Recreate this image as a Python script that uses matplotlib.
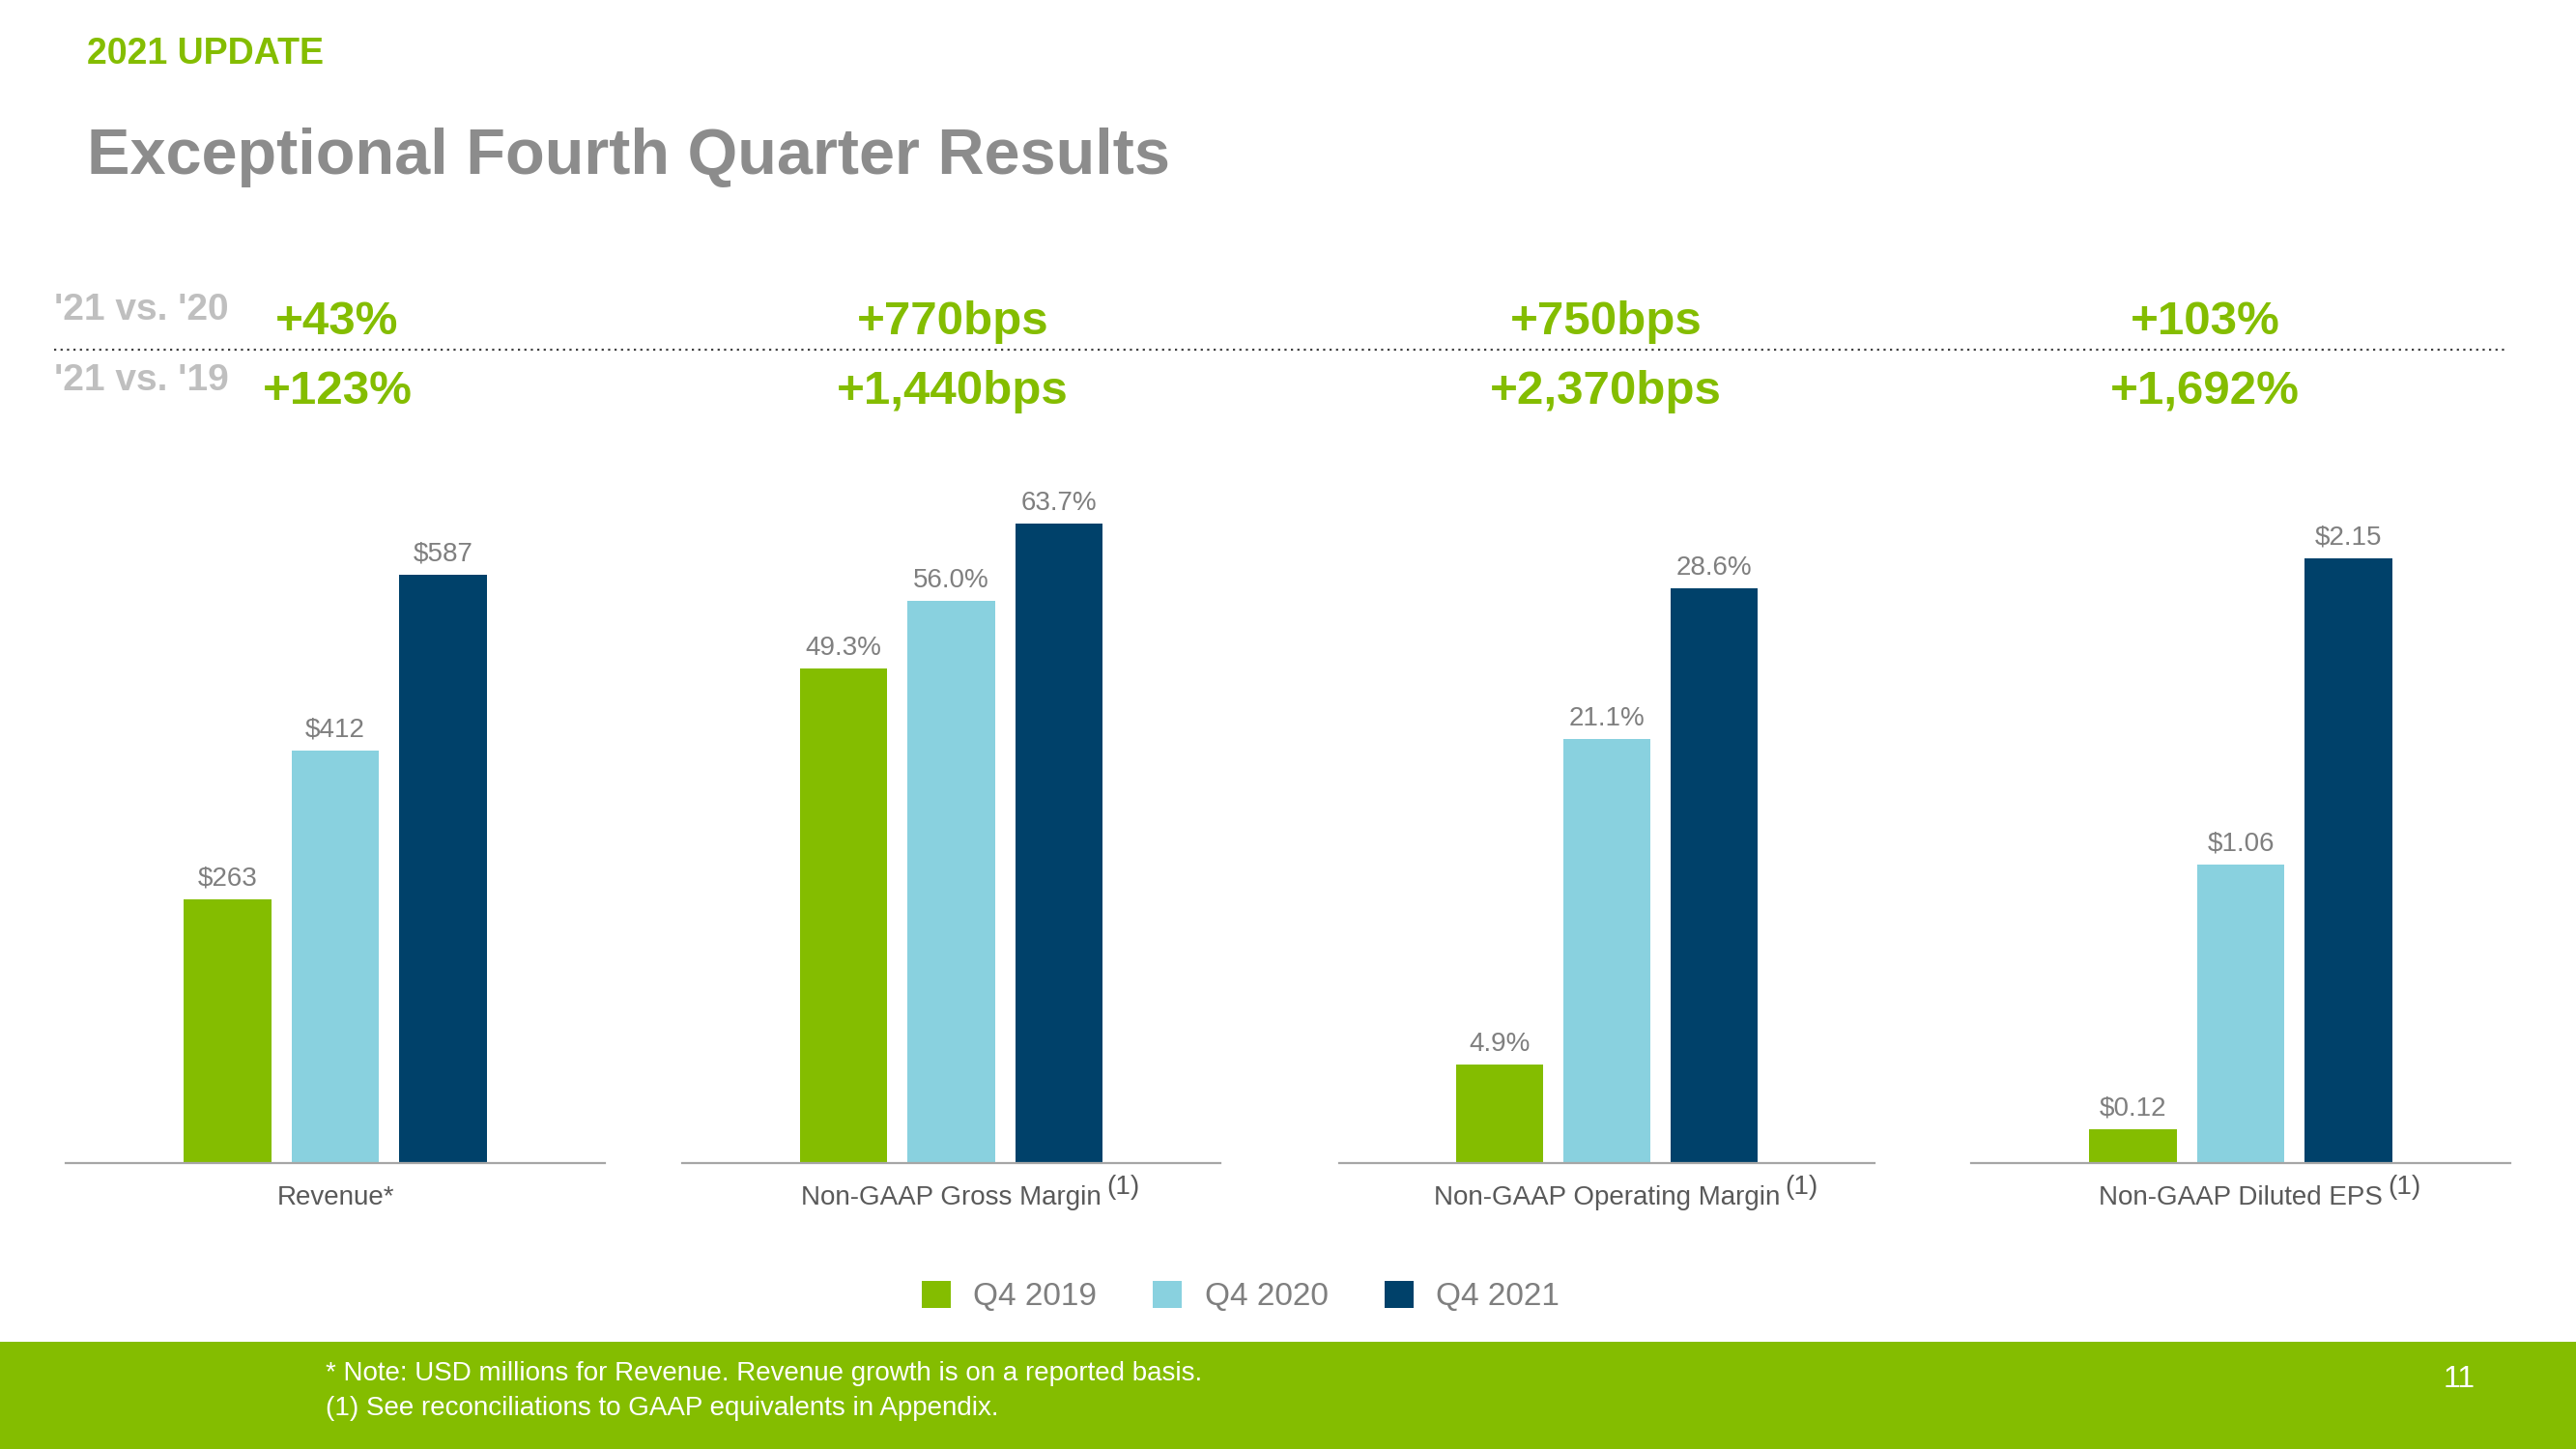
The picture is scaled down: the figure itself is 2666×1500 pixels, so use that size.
"""Q4 2021 results slide: four small bar panels with growth callouts."""
import matplotlib
matplotlib.use("Agg")
import matplotlib.pyplot as plt
from matplotlib.patches import Rectangle, Patch
from matplotlib.lines import Line2D

plt.rcParams["font.family"] = ["Liberation Sans", "DejaVu Sans"]

GREEN, LIGHT, DARK = "#84bd00", "#89d1df", "#00416a"
GRAY = "#7f7f7f"

# data
series = ["Q4 2019", "Q4 2020", "Q4 2021"]
metrics = ["Revenue*", "Non-GAAP Gross Margin", "Non-GAAP Operating Margin", "Non-GAAP Diluted EPS"]
footnote = [False, True, True, True]
revenue = [263, 412, 587]
gross_margin = [49.3, 56.0, 63.7]
op_margin = [4.9, 21.1, 28.6]
eps = [0.12, 1.06, 2.15]
growth_vs_20 = ["+43%", "+770bps", "+750bps", "+103%"]
growth_vs_19 = ["+123%", "+1,440bps", "+2,370bps", "+1,692%"]

values = [revenue, gross_margin, op_margin, eps]
fmts = ["${:.0f}", "{:.1f}%", "{:.1f}%", "${:.2f}"]
ytops = [702, 70.1, 35.0, 2.50]

W, H = 2666, 1500
fig = plt.figure(figsize=(W / 100, H / 100), dpi=100)
fig.patch.set_facecolor("white")

# panel extents in pixels (left, right)
panels = [(68, 626), (706, 1263), (1386, 1940), (2040, 2598)]
base_y, top_y = 1204, 476
growth_x = [349, 986, 1662, 2282]

for i, (x0, x1) in enumerate(panels):
    ax = fig.add_axes([x0 / W, 1 - base_y / H, (x1 - x0) / W, (base_y - top_y) / H])
    bars = ax.bar(range(3), values[i], width=0.81, color=[GREEN, LIGHT, DARK])
    ax.set_xlim(-1.5, 3.5)
    ax.set_ylim(0, ytops[i])
    for s in ["top", "left", "right"]:
        ax.spines[s].set_visible(False)
    ax.spines["bottom"].set_color("#a6a6a6")
    ax.spines["bottom"].set_linewidth(1.6)
    ax.set_xticks([])
    ax.set_yticks([])
    ax.patch.set_alpha(0)
    for b, v in zip(bars, values[i]):
        ax.annotate(fmts[i].format(v), (b.get_x() + b.get_width() / 2, v),
                    xytext=(0, 6), textcoords="offset points",
                    ha="center", va="bottom", color=GRAY, fontsize=20)
    lab = ax.text(1, -0.05, metrics[i], transform=ax.get_xaxis_transform(),
                  ha="center", va="center", color="#595959", fontsize=20)
    if footnote[i]:
        ax.annotate("(1)", xy=(1, 0.5), xycoords=lab, xytext=(4, 8),
                    textcoords="offset points", ha="left", va="center",
                    color="#595959", fontsize=20)

    gx = growth_x[i] / W
    fig.text(gx, 1 - 333 / H, growth_vs_20[i], ha="center", va="center",
             color=GREEN, fontsize=35.5, fontweight="bold")
    fig.text(gx, 1 - 406 / H, growth_vs_19[i], ha="center", va="center",
             color=GREEN, fontsize=35.5, fontweight="bold")

# row labels and divider
fig.text(56 / W, 1 - 321 / H, "'21 vs. '20", ha="left", va="center",
         color="#bfbfbf", fontsize=28, fontweight="bold")
fig.text(56 / W, 1 - 394 / H, "'21 vs. '19", ha="left", va="center",
         color="#bfbfbf", fontsize=28, fontweight="bold")
fig.add_artist(Line2D([56 / W, 2596 / W], [1 - 362 / H] * 2, color="#404040",
                      linestyle=(0, (1, 2)), linewidth=1.6))

# header
fig.text(90 / W, 1 - 56 / H, "2021 UPDATE", ha="left", va="center",
         color=GREEN, fontsize=27, fontweight="bold")
fig.text(90 / W, 1 - 163 / H, "Exceptional Fourth Quarter Results", ha="left",
         va="center", color="#8c8c8c", fontsize=48, fontweight="bold")

# legend
handles = [Patch(facecolor=c, label=s) for c, s in zip([GREEN, LIGHT, DARK], series)]
leg = fig.legend(handles=handles, loc="center", bbox_to_anchor=(0.4816, 1 - 1342 / H),
                 ncol=3, frameon=False, fontsize=24, handlelength=0.9,
                 handleheight=0.9, handletextpad=0.7, columnspacing=1.75)
for t in leg.get_texts():
    t.set_color(GRAY)

# footer band
fig.add_artist(Rectangle((0, 0), 1, (H - 1389) / H, transform=fig.transFigure,
                         facecolor=GREEN, edgecolor="none", zorder=0))
fig.text(337 / W, 1 - 1422 / H,
         "* Note: USD millions for Revenue. Revenue growth is on a reported basis.",
         ha="left", va="center", color="white", fontsize=20)
fig.text(337 / W, 1 - 1458 / H, "(1) See reconciliations to GAAP equivalents in Appendix.",
         ha="left", va="center", color="white", fontsize=20)
fig.text(2545 / W, 1 - 1428 / H, "11", ha="center", va="center", color="white", fontsize=23)

fig.savefig("out.png", dpi=100)
